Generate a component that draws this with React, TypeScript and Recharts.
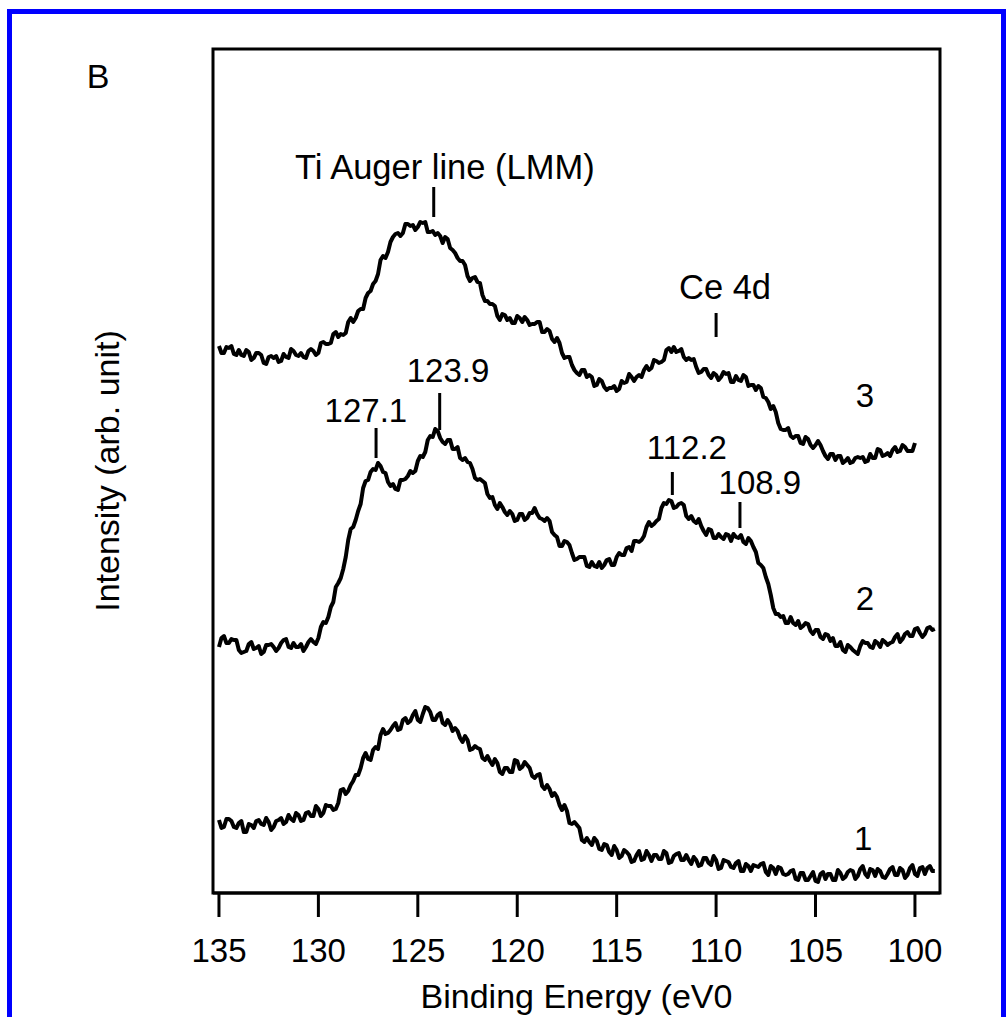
import React from 'react';
import { LineChart, Line, XAxis, YAxis, ReferenceArea, ReferenceLine, ReferenceDot } from 'recharts';

const FONT = '"Liberation Sans", Arial, Helvetica, sans-serif';

// Binding energy grid (eV), 0.125 eV steps
const energies = [
  135, 134.875, 134.75, 134.625, 134.5, 134.375, 134.25, 134.125,
  134, 133.875, 133.75, 133.625, 133.5, 133.375, 133.25, 133.125,
  133, 132.875, 132.75, 132.625, 132.5, 132.375, 132.25, 132.125,
  132, 131.875, 131.75, 131.625, 131.5, 131.375, 131.25, 131.125,
  131, 130.875, 130.75, 130.625, 130.5, 130.375, 130.25, 130.125,
  130, 129.875, 129.75, 129.625, 129.5, 129.375, 129.25, 129.125,
  129, 128.875, 128.75, 128.625, 128.5, 128.375, 128.25, 128.125,
  128, 127.875, 127.75, 127.625, 127.5, 127.375, 127.25, 127.125,
  127, 126.875, 126.75, 126.625, 126.5, 126.375, 126.25, 126.125,
  126, 125.875, 125.75, 125.625, 125.5, 125.375, 125.25, 125.125,
  125, 124.875, 124.75, 124.625, 124.5, 124.375, 124.25, 124.125,
  124, 123.875, 123.75, 123.625, 123.5, 123.375, 123.25, 123.125,
  123, 122.875, 122.75, 122.625, 122.5, 122.375, 122.25, 122.125,
  122, 121.875, 121.75, 121.625, 121.5, 121.375, 121.25, 121.125,
  121, 120.875, 120.75, 120.625, 120.5, 120.375, 120.25, 120.125,
  120, 119.875, 119.75, 119.625, 119.5, 119.375, 119.25, 119.125,
  119, 118.875, 118.75, 118.625, 118.5, 118.375, 118.25, 118.125,
  118, 117.875, 117.75, 117.625, 117.5, 117.375, 117.25, 117.125,
  117, 116.875, 116.75, 116.625, 116.5, 116.375, 116.25, 116.125,
  116, 115.875, 115.75, 115.625, 115.5, 115.375, 115.25, 115.125,
  115, 114.875, 114.75, 114.625, 114.5, 114.375, 114.25, 114.125,
  114, 113.875, 113.75, 113.625, 113.5, 113.375, 113.25, 113.125,
  113, 112.875, 112.75, 112.625, 112.5, 112.375, 112.25, 112.125,
  112, 111.875, 111.75, 111.625, 111.5, 111.375, 111.25, 111.125,
  111, 110.875, 110.75, 110.625, 110.5, 110.375, 110.25, 110.125,
  110, 109.875, 109.75, 109.625, 109.5, 109.375, 109.25, 109.125,
  109, 108.875, 108.75, 108.625, 108.5, 108.375, 108.25, 108.125,
  108, 107.875, 107.75, 107.625, 107.5, 107.375, 107.25, 107.125,
  107, 106.875, 106.75, 106.625, 106.5, 106.375, 106.25, 106.125,
  106, 105.875, 105.75, 105.625, 105.5, 105.375, 105.25, 105.125,
  105, 104.875, 104.75, 104.625, 104.5, 104.375, 104.25, 104.125,
  104, 103.875, 103.75, 103.625, 103.5, 103.375, 103.25, 103.125,
  103, 102.875, 102.75, 102.625, 102.5, 102.375, 102.25, 102.125,
  102, 101.875, 101.75, 101.625, 101.5, 101.375, 101.25, 101.125,
  101, 100.875, 100.75, 100.625, 100.5, 100.375, 100.25, 100.125,
  100, 99.875, 99.75, 99.625, 99.5, 99.375, 99.25, 99.125,
  99,
];

// Spectrum 1 (bottom trace)
const spectrum1 = [
  73, 65, 66, 74, 74, 72, 66, 65, 70, 72, 61, 61, 69, 68, 65, 72, 73, 69, 68, 75, 71, 63, 66, 72,
  73, 75, 69, 71, 78, 74, 72, 80, 78, 72, 73, 80, 81, 77, 77, 87, 84, 77, 80, 88, 87, 87, 83, 84,
  90, 103, 104, 99, 102, 108, 112, 118, 118, 125, 135, 140, 134, 133, 143, 146, 144, 158, 164, 159, 160, 163, 167, 170,
  163, 164, 173, 175, 170, 172, 178, 182, 173, 171, 179, 186, 185, 181, 173, 173, 178, 180, 170, 168, 173, 169, 162, 165,
  162, 155, 151, 157, 153, 143, 144, 147, 145, 144, 135, 133, 137, 132, 128, 134, 130, 121, 119, 125, 125, 121, 121, 133,
  132, 124, 126, 131, 128, 125, 117, 115, 118, 119, 107, 104, 108, 104, 97, 100, 96, 88, 83, 88, 82, 70, 69, 71,
  68, 65, 53, 51, 55, 51, 48, 55, 52, 44, 43, 49, 48, 41, 38, 47, 43, 35, 37, 43, 41, 38, 31, 32,
  38, 42, 33, 34, 42, 38, 32, 38, 38, 34, 34, 42, 40, 30, 31, 37, 39, 40, 33, 33, 38, 33, 29, 36,
  33, 27, 28, 35, 35, 30, 28, 37, 33, 24, 25, 33, 32, 31, 26, 25, 30, 32, 22, 22, 29, 27, 22, 28,
  27, 26, 29, 30, 21, 18, 27, 25, 19, 26, 25, 19, 18, 19, 22, 23, 14, 13, 20, 20, 13, 13, 17, 21,
  12, 11, 19, 21, 14, 19, 19, 13, 13, 23, 20, 14, 16, 21, 23, 22, 14, 17, 24, 27, 19, 16, 24, 23,
  17, 24, 22, 16, 15, 19, 24, 26, 18, 18, 25, 23, 15, 18, 25, 28, 19, 17, 25, 26, 19, 25, 27, 22, 22,
];

// Spectrum 2 (middle trace)
const spectrum2 = [
  246, 255, 257, 250, 250, 254, 253, 253, 243, 240, 241, 242, 249, 251, 244, 245, 247, 239, 241, 248, 248, 249, 246, 242,
  245, 250, 253, 254, 246, 245, 250, 246, 246, 249, 242, 246, 251, 254, 251, 249, 255, 266, 271, 270, 276, 286, 291, 306,
  310, 315, 324, 336, 353, 364, 366, 373, 382, 389, 405, 412, 413, 421, 424, 423, 430, 427, 421, 420, 411, 407, 409, 404,
  403, 413, 413, 414, 417, 422, 420, 422, 432, 437, 436, 441, 453, 457, 456, 464, 462, 455, 451, 449, 453, 453, 444, 444,
  446, 435, 433, 435, 431, 430, 424, 415, 413, 414, 412, 410, 399, 395, 396, 388, 384, 390, 386, 381, 378, 382, 379, 372,
  373, 379, 379, 373, 375, 380, 380, 385, 379, 375, 374, 372, 375, 372, 361, 358, 356, 347, 347, 352, 351, 348, 340, 333,
  334, 336, 336, 336, 327, 326, 331, 327, 326, 331, 325, 328, 333, 334, 328, 328, 336, 340, 338, 338, 345, 346, 342, 352,
  352, 351, 353, 357, 366, 371, 367, 369, 372, 374, 385, 390, 389, 393, 392, 385, 386, 389, 390, 388, 377, 374, 377, 372,
  370, 374, 367, 362, 358, 364, 363, 355, 355, 359, 356, 354, 359, 358, 352, 359, 356, 355, 358, 351, 349, 355, 352, 346,
  341, 330, 328, 325, 316, 309, 298, 285, 279, 279, 276, 277, 270, 270, 276, 270, 268, 272, 265, 267, 270, 269, 262, 259,
  263, 263, 256, 254, 259, 258, 252, 255, 247, 247, 251, 243, 241, 248, 246, 243, 241, 239, 247, 252, 250, 250, 246, 245,
  252, 250, 246, 253, 251, 248, 250, 251, 256, 259, 251, 254, 259, 261, 257, 257, 264, 265, 260, 256, 259, 265, 266, 263, 264,
];

// Spectrum 3 (top trace, ends at 100 eV)
const spectrum3 = [
  547, 540, 540, 546, 545, 547, 539, 538, 543, 538, 537, 543, 541, 533, 535, 540, 540, 538, 530, 529, 536, 537, 535, 537,
  531, 532, 539, 536, 535, 544, 542, 538, 537, 540, 536, 535, 542, 544, 542, 538, 540, 550, 551, 549, 549, 550, 559, 561,
  556, 559, 558, 560, 571, 575, 571, 575, 582, 584, 584, 595, 600, 602, 609, 612, 619, 633, 637, 635, 641, 651, 656, 659,
  660, 657, 660, 669, 669, 667, 668, 663, 666, 671, 670, 671, 661, 661, 662, 658, 660, 657, 650, 656, 654, 645, 643, 640,
  635, 632, 632, 628, 617, 612, 615, 616, 611, 610, 598, 592, 592, 589, 589, 587, 577, 573, 579, 578, 573, 575, 570, 570,
  577, 575, 571, 576, 573, 568, 569, 569, 571, 571, 561, 561, 564, 562, 554, 551, 555, 550, 540, 535, 536, 536, 528, 523,
  520, 518, 523, 523, 516, 518, 516, 507, 508, 514, 512, 506, 503, 505, 505, 507, 502, 504, 512, 510, 511, 519, 516, 512,
  516, 518, 516, 523, 527, 523, 525, 533, 532, 530, 531, 533, 543, 545, 541, 546, 541, 542, 544, 536, 533, 535, 533, 534,
  526, 520, 521, 524, 524, 518, 515, 520, 518, 513, 516, 521, 519, 520, 511, 511, 517, 513, 512, 518, 516, 507, 508, 508,
  503, 507, 505, 496, 495, 491, 484, 487, 481, 470, 464, 463, 463, 465, 457, 455, 457, 457, 450, 449, 456, 454, 448, 445,
  448, 452, 448, 442, 437, 434, 439, 439, 433, 437, 437, 430, 432, 435, 430, 431, 435, 436, 435, 436, 431, 432, 439, 435,
  435, 444, 443, 437, 438, 440, 437, 443, 446, 441, 442, 448, 446, 442, 442, 442, 450,
];

const xTicks = [135, 130, 125, 120, 115, 110, 105, 100];

// Short vertical marker lines (energy, lower and upper intensity)
const markers = [
  { x: 124.2, y1: 676, y2: 706 },
  { x: 110.0, y1: 556, y2: 580 },
  { x: 127.1, y1: 435, y2: 465 },
  { x: 123.9, y1: 463, y2: 500 },
  { x: 112.2, y1: 398, y2: 421 },
  { x: 108.8, y1: 365, y2: 391 },
];

// Annotation texts (energy, intensity, kind)
const annotations = [
  { x: 123.64, y: 726, text: 'Ti Auger line (LMM)', word: true },
  { x: 109.55, y: 606, text: 'Ce 4d', word: true },
  { x: 127.61, y: 483, text: '127.1', word: false },
  { x: 123.48, y: 523, text: '123.9', word: false },
  { x: 111.47, y: 446, text: '112.2', word: false },
  { x: 107.8, y: 411, text: '108.9', word: false },
  { x: 102.51, y: 498, text: '3', word: false },
  { x: 102.51, y: 295, text: '2', word: false },
  { x: 102.6, y: 55, text: '1', word: false },
];

const X_MIN = 98.74;
const X_MAX = 135.3;
const Y_MAX = 844;

const data = energies.map((e, i) => ({
  e,
  s1: spectrum1[i],
  s2: spectrum2[i],
  s3: i < spectrum3.length ? spectrum3[i] : null,
}));

export default function App() {
  return (
    <div style={{ position: 'absolute', left: 0, top: 0, width: 1008, height: 1017, overflow: 'hidden', background: '#fff' }}>
      <div
        style={{
          position: 'absolute',
          left: 7,
          top: 9,
          width: 999,
          height: 1040,
          border: '5px solid #0000ff',
          boxSizing: 'border-box',
        }}
      />
      <div
        style={{
          position: 'absolute',
          left: 78,
          top: 57,
          width: 40,
          fontFamily: FONT,
          fontSize: 34,
          lineHeight: '38px',
          color: '#000',
          textAlign: 'center',
        }}
      >
        B
      </div>
      <div style={{ position: 'absolute', left: 0, top: 0 }}>
        <LineChart width={1008} height={1017} data={data} margin={{ top: 49, right: 68, left: 0, bottom: 0 }}>
          <XAxis
            dataKey="e"
            type="number"
            domain={[X_MIN, X_MAX]}
            reversed
            allowDataOverflow
            ticks={xTicks}
            interval={0}
            height={124}
            tickSize={24}
            tickMargin={22}
            axisLine={{ stroke: '#000', strokeWidth: 3 }}
            tickLine={{ stroke: '#000', strokeWidth: 3 }}
            tick={{ fontSize: 33, fill: '#000', fontFamily: FONT }}
            label={{ value: 'Binding Energy (eV0', position: 'insideBottom', offset: 9, fontSize: 34, fill: '#000', fontFamily: FONT }}
          />
          <YAxis
            type="number"
            domain={[0, Y_MAX]}
            allowDataOverflow
            width={213}
            tick={false}
            tickLine={false}
            axisLine={false}
            label={{ value: 'Intensity (arb. unit)', angle: -90, position: 'center', fontSize: 34, fill: '#000', fontFamily: FONT }}
          />
          <ReferenceArea
            x1={X_MIN}
            x2={X_MAX}
            y1={0}
            y2={Y_MAX}
            fill="none"
            stroke="#000"
            strokeWidth={3}
            ifOverflow="visible"
          />
          <Line type="linear" dataKey="s1" stroke="#000" strokeWidth={4} strokeLinejoin="round" dot={false} isAnimationActive={false} />
          <Line type="linear" dataKey="s2" stroke="#000" strokeWidth={4} strokeLinejoin="round" dot={false} isAnimationActive={false} />
          <Line type="linear" dataKey="s3" stroke="#000" strokeWidth={4} strokeLinejoin="round" dot={false} isAnimationActive={false} />
          {markers.map((m, i) => (
            <ReferenceLine
              key={'m' + i}
              segment={[{ x: m.x, y: m.y1 }, { x: m.x, y: m.y2 }]}
              stroke="#000"
              strokeWidth={3}
              ifOverflow="visible"
            />
          ))}
          {annotations.map((a, i) => (
            <ReferenceDot
              key={'a' + i}
              x={a.x}
              y={a.y}
              r={1}
              fill="none"
              stroke="none"
              ifOverflow="visible"
              label={{ value: a.text, position: 'center', fontSize: a.word ? 34.5 : 33, fill: '#000', fontFamily: FONT }}
            />
          ))}
        </LineChart>
      </div>
    </div>
  );
}
